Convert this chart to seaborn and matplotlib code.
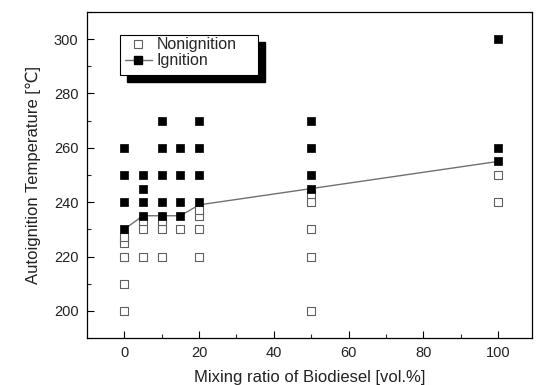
import matplotlib
matplotlib.use("Agg")
import matplotlib.pyplot as plt
from matplotlib.lines import Line2D
from matplotlib.patches import Rectangle
import seaborn as sns
import pandas as pd

# Ignition (filled squares)
ign_x = [0, 0, 0, 0, 5, 5, 5, 5, 10, 10, 10, 10, 10, 15, 15, 15, 15, 20, 20, 20, 20, 50, 50, 50, 50, 100, 100, 100]
ign_y = [230, 240, 250, 260, 235, 240, 245, 250, 235, 240, 250, 260, 270, 235, 240, 250, 260, 240, 250, 260, 270, 245, 250, 260, 270, 255, 260, 300]

# Nonignition (open squares)
non_x = [0, 0, 0, 0, 0, 5, 5, 5, 10, 10, 10, 15, 20, 20, 20, 20, 50, 50, 50, 50, 50, 100, 100]
non_y = [200, 210, 220, 225, 227, 220, 230, 233, 220, 230, 233, 230, 220, 230, 235, 237, 200, 220, 230, 240, 243, 240, 250]

# Ignition threshold line
line_x = [0, 5, 10, 15, 20, 50, 100]
line_y = [230, 235, 235, 235, 239, 245, 255]

x_ticks = [0, 20, 40, 60, 80, 100]
y_ticks = [200, 220, 240, 260, 280, 300]

sns.set_style("white")
plt.rcParams['font.family'] = ['Liberation Sans', 'DejaVu Sans']

fig = plt.figure(figsize=(5.36, 3.85), dpi=100)
ax = fig.add_axes([0.162, 0.122, 0.9925 - 0.162, 0.969 - 0.122])

df_ign = pd.DataFrame({"x": ign_x, "y": ign_y})
df_non = pd.DataFrame({"x": non_x, "y": non_y})
df_line = pd.DataFrame({"x": line_x, "y": line_y})

sns.lineplot(data=df_line, x="x", y="y", ax=ax, color="#707070", linewidth=1.0, zorder=2)
sns.scatterplot(data=df_non, x="x", y="y", ax=ax, marker="s", s=26,
                facecolor="white", edgecolor="#606060", linewidth=0.8, zorder=3)
sns.scatterplot(data=df_ign, x="x", y="y", ax=ax, marker="s", s=30,
                color="black", edgecolor="black", linewidth=0.5, zorder=4)

ax.set_xlim(-10, 109)
ax.set_ylim(190, 310)
ax.set_xticks(x_ticks)
ax.set_yticks(y_ticks)
ax.set_xticks([10, 30, 50, 70, 90], minor=True)
ax.set_yticks([190, 210, 230, 250, 270, 290, 310], minor=True)
ax.tick_params(axis='both', which='major', direction='in', length=5, width=0.8,
               labelsize=10.5, colors='black', labelcolor='#222222',
               bottom=True, left=True, top=False, right=False, pad=6)
ax.tick_params(axis='both', which='minor', direction='in', length=3, width=0.8,
               bottom=True, left=True, top=False, right=False)
for sp in ax.spines.values():
    sp.set_color('black')
    sp.set_linewidth(0.9)

ax.set_xlabel("Mixing ratio of Biodiesel [vol.%]", fontsize=12, labelpad=7, color='#222222')
ax.set_ylabel("Autoignition Temperature [℃]", fontsize=12, labelpad=9, color='#222222')

# legend frame with solid black drop shadow (axes coordinates)
ax.add_patch(Rectangle((0.0899, 0.785), 0.4 - 0.0899, 0.908 - 0.785, transform=ax.transAxes,
                       facecolor='black', edgecolor='black', zorder=5, clip_on=False))
ax.add_patch(Rectangle((0.0742, 0.8067), 0.3843 - 0.0742, 0.9294 - 0.8067, transform=ax.transAxes,
                       facecolor='white', edgecolor='black', linewidth=0.8, zorder=5.1, clip_on=False))

handles = [
    Line2D([], [], linestyle='none', marker='s', markersize=5.5, markerfacecolor='white',
           markeredgecolor='#606060', markeredgewidth=0.8),
    Line2D([], [], color='#707070', linewidth=1.0, marker='s', markersize=5.5,
           markerfacecolor='black', markeredgecolor='black'),
]
leg = ax.legend(handles, ["Nonignition", "Ignition"], loc='upper left',
                bbox_to_anchor=(0.081, 0.9294), frameon=False, fontsize=11.5,
                handlelength=1.65, handletextpad=0.3, borderpad=0.15, labelspacing=0.05,
                borderaxespad=0)
leg.set_zorder(6)

fig.savefig("out.png", dpi=100)
